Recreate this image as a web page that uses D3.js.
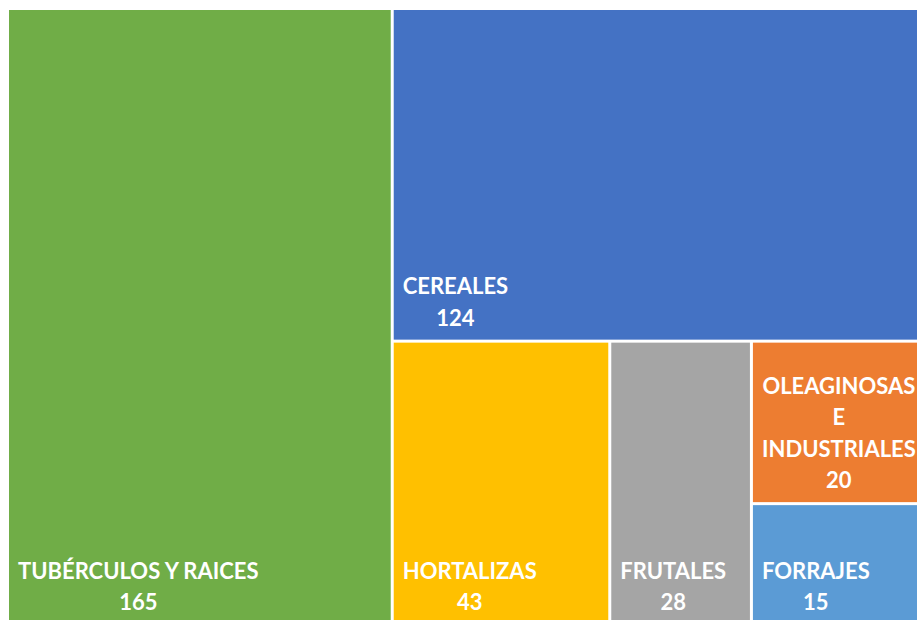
<!DOCTYPE html>
<html>
<head>
<meta charset="utf-8">
<script src="https://cdn.jsdelivr.net/npm/d3@7"></script>
<style>
  html, body { margin: 0; padding: 0; background: #fff; overflow: hidden; }
  text { font-family: Lato, "Open Sans", sans-serif; font-weight: bold; fill: #fff; }
</style>
</head>
<body>
<script>
// Data
const categories = ['TUBÉRCULOS Y RAICES', 'CEREALES', 'HORTALIZAS', 'FRUTALES', 'OLEAGINOSAS E INDUSTRIALES', 'FORRAJES'];
const values = [165, 124, 43, 28, 20, 15];
const colors = ['#70AD47', '#4472C4', '#FFC000', '#A5A5A5', '#ED7D31', '#5B9BD5'];

const width = 917, height = 620;
const area = { x0: 9, y0: 10, x1: 927, y1: 624 };

// Nest: each item split off from the rest, alternating direction by depth
function nest(i) {
  if (i === categories.length - 2) {
    return { children: [leaf(i), leaf(i + 1)] };
  }
  // Hortalizas, Frutales and the last group share a row
  if (i === 2) {
    return { children: [leaf(2), leaf(3), nest(4)] };
  }
  return { children: [leaf(i), nest(i + 1)] };
}
function leaf(i) {
  return { name: categories[i], value: values[i], color: colors[i] };
}

const root = d3.hierarchy(nest(0)).sum(d => d.value || 0);

d3.treemap()
  .tile(d3.treemapSliceDice)
  .size([area.x1 - area.x0, area.y1 - area.y0])
  .paddingInner(3)
  .round(false)(root);

const svg = d3.select('body').append('svg')
  .attr('width', width)
  .attr('height', height);

const g = svg.append('g').attr('transform', `translate(${area.x0},${area.y0})`);

const cells = g.selectAll('g.cell')
  .data(root.leaves())
  .enter()
  .append('g')
  .attr('class', 'cell');

cells.append('rect')
  .attr('x', d => d.x0)
  .attr('y', d => d.y0)
  .attr('width', d => d.x1 - d.x0)
  .attr('height', d => d.y1 - d.y0)
  .attr('fill', d => d.data.color);

const fontSize = 22, lineH = 31.5, pad = 9;

cells.each(function (d) {
  const cell = d3.select(this);
  const avail = d.x1 - d.x0 - 2 * pad;
  const t = cell.append('text').attr('font-size', fontSize).attr('text-anchor', 'middle');

  // greedy word wrap
  const words = d.data.name.split(' ');
  const lines = [];
  let cur = '';
  const probe = t.append('tspan');
  words.forEach(w => {
    const next = cur ? cur + ' ' + w : w;
    probe.text(next);
    if (cur && probe.node().getComputedTextLength() > avail) {
      lines.push(cur);
      cur = w;
    } else {
      cur = next;
    }
  });
  lines.push(cur);
  let maxW = 0;
  lines.forEach(l => {
    probe.text(l);
    maxW = Math.max(maxW, probe.node().getComputedTextLength());
  });
  probe.remove();
  lines.push(String(d.data.value));

  const cx = d.x0 + pad + maxW / 2;
  const lastY = d.y1 - 14;
  lines.forEach((l, i) => {
    t.append('tspan')
      .attr('x', cx)
      .attr('y', lastY - (lines.length - 1 - i) * lineH)
      .text(l);
  });
});
</script>
</body>
</html>
